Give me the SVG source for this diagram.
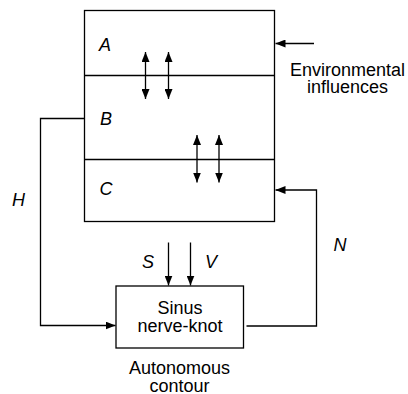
<svg xmlns="http://www.w3.org/2000/svg" width="408" height="394" viewBox="0 0 408 394">
<defs>
<marker id="ah" markerWidth="10" markerHeight="8" refX="10" refY="4" orient="auto-start-reverse" markerUnits="userSpaceOnUse">
<path d="M0,0 L10,4 L0,8 Z" fill="#000"/>
</marker>
<style>
.box{fill:#fff;stroke:#000;stroke-width:1.3}
.ln{fill:none;stroke:#000;stroke-width:1.3}
.t{font-family:"Liberation Sans",Arial,sans-serif;font-size:18px;fill:#000;text-anchor:middle}
.it{font-family:"Liberation Sans",Arial,sans-serif;font-size:18px;font-style:italic;fill:#000;text-anchor:middle}
</style>
</defs>
<rect width="408" height="394" fill="#fff"/>
<g id="main">
<rect class="box" x="84.5" y="10.5" width="190" height="211"/>
<line class="ln" x1="84.5" y1="75.5" x2="274.5" y2="75.5"/>
<line class="ln" x1="84.5" y1="159.5" x2="274.5" y2="159.5"/>
<text class="it" x="105" y="51">A</text>
<text class="it" x="106" y="125">B</text>
<text class="it" x="106" y="195">C</text>
</g>
<g id="sinus">
<rect class="box" x="116" y="286" width="127.5" height="62"/>
<text class="t" x="180" y="314">Sinus</text>
<text class="t" x="180" y="332">nerve-knot</text>
</g>
<g id="labels">
<text class="t" x="347.5" y="75.5">Environmental</text>
<text class="t" x="347.5" y="93">influences</text>
<text class="t" x="179.5" y="373.5">Autonomous</text>
<text class="t" x="179.5" y="391.5">contour</text>
<text class="it" x="18.5" y="206">H</text>
<text class="it" x="148" y="268">S</text>
<text class="it" x="211" y="268">V</text>
<text class="it" x="340" y="251">N</text>
</g>
<g id="connectors">
<line class="ln" x1="145.5" y1="52" x2="145.5" y2="99" marker-start="url(#ah)" marker-end="url(#ah)"/>
<line class="ln" x1="168.5" y1="52" x2="168.5" y2="99" marker-start="url(#ah)" marker-end="url(#ah)"/>
<line class="ln" x1="197" y1="135" x2="197" y2="182.5" marker-start="url(#ah)" marker-end="url(#ah)"/>
<line class="ln" x1="219" y1="135" x2="219" y2="182.5" marker-start="url(#ah)" marker-end="url(#ah)"/>
<line class="ln" x1="314" y1="43.5" x2="275.5" y2="43.5" marker-end="url(#ah)"/>
<line class="ln" x1="168.5" y1="242.5" x2="168.5" y2="285.5" marker-end="url(#ah)"/>
<line class="ln" x1="190.5" y1="242.5" x2="190.5" y2="285.5" marker-end="url(#ah)"/>
<polyline class="ln" points="84.5,118.5 40.5,118.5 40.5,325.5 115.5,325.5" marker-end="url(#ah)"/>
<polyline class="ln" points="246.5,326 316.5,326 316.5,190 275.5,190" marker-end="url(#ah)"/>
</g>
</svg>
